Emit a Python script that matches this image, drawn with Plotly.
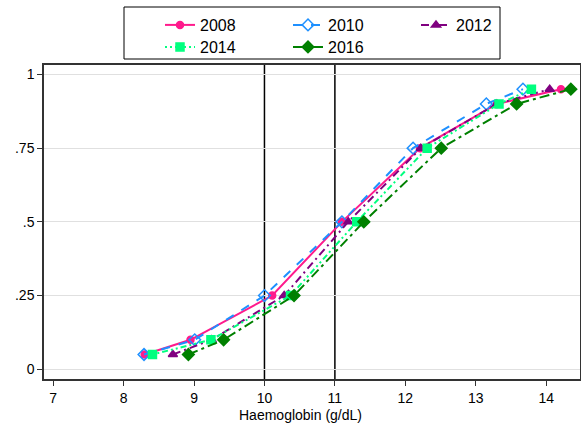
import plotly.graph_objects as go

# cumulative shares (y) and haemoglobin at those percentiles (x)
shares = [0.05, 0.1, 0.25, 0.5, 0.75, 0.9, 0.95]

hb_2008 = [8.30, 8.95, 10.11, 11.10, 12.21, 13.30, 14.21]
hb_2010 = [8.29, 9.01, 10.00, 11.10, 12.11, 13.15, 13.67]
hb_2012 = [8.70, 9.25, 10.28, 11.19, 12.22, 13.30, 14.05]
hb_2014 = [8.41, 9.24, 10.37, 11.31, 12.31, 13.33, 13.79]
hb_2016 = [8.92, 9.42, 10.42, 11.41, 12.51, 13.58, 14.35]

cutoffs = [10, 11]
x_ticks = [7, 8, 9, 10, 11, 12, 13, 14]
y_ticks = [0, 0.25, 0.5, 0.75, 1]
y_labels = ['0', '.25', '.5', '.75', '1']

W, H = 581, 426
L, R, T, B = 44, 1, 65, 47
PW, PH = W - L - R, H - T - B


def px_x(p):
    return (p - L) / PW


def px_y(p):
    return 1 + (T - p) / PH


series = [
    ('2008', hb_2008, '#ff1a8c', 'solid', 'circle', 7, 'legend'),
    ('2010', hb_2010, '#1e90ff', 'dash', 'diamond-open', 9, 'legend'),
    ('2012', hb_2012, '#800080', '8px,4px,2px,4px', 'triangle-up', 8, 'legend'),
    ('2014', hb_2014, '#00ff7f', '2px,3px,2px,3px,6px,3px', 'square', 8, 'legend2'),
    ('2016', hb_2016, '#008000', '10px,4px,3px,4px', 'diamond', 9, 'legend2'),
]

fig = go.Figure()
for name, xs, col, dash, sym, sz, lg in series:
    fig.add_trace(go.Scatter(
        x=xs,
        y=shares,
        mode='lines+markers',
        name=name,
        legend=lg,
        line=dict(color=col, width=2, dash=dash),
        marker=dict(symbol=sym, size=sz, color=col,
                    line=dict(color=col, width=1.5)),
    ))

for c in cutoffs:
    fig.add_shape(type='line', xref='x', yref='paper', x0=c, x1=c, y0=0, y1=1,
                  layer='below', line=dict(color='black', width=1.5))

# legend frame
fig.add_shape(type='rect', xref='paper', yref='paper',
              x0=px_x(124), x1=px_x(500), y0=px_y(59), y1=px_y(7),
              line=dict(color='black', width=1))

# x axis title, a bit left of the plot centre as in the original
fig.add_annotation(text='Haemoglobin (g/dL)', xref='paper', yref='paper',
                   x=px_x(300), y=px_y(405), xanchor='center', yanchor='top',
                   showarrow=False, font=dict(size=14))

leg = dict(
    orientation='h',
    xanchor='left', yanchor='top',
    entrywidth=83, entrywidthmode='pixels',
    font=dict(size=16),
    bgcolor='rgba(0,0,0,0)',
)

fig.update_layout(
    width=W,
    height=H,
    margin=dict(l=L, r=R, t=T, b=B, autoexpand=False),
    paper_bgcolor='white',
    plot_bgcolor='white',
    font=dict(family='Liberation Sans, Arial', size=14, color='black'),
    legend=dict(leg, x=px_x(160), y=px_y(8)),
    legend2=dict(leg, x=px_x(160), y=px_y(30)),
)

fig.update_xaxes(
    range=[6.87, 14.48],
    tickvals=x_ticks,
    ticks='outside', ticklen=5, tickcolor='#333',
    showgrid=False, zeroline=False,
    showline=True, linecolor='#333', linewidth=1.5, mirror=True,
)
fig.update_yaxes(
    range=[-0.033, 1.032],
    tickvals=y_ticks, ticktext=y_labels,
    ticks='outside', ticklen=5, tickcolor='#333',
    showgrid=True, gridcolor='#e0e0e0', gridwidth=1, zeroline=False,
    showline=True, linecolor='#333', linewidth=1.5, mirror=True,
)

fig.write_html('out.html', config={'displayModeBar': False},
               post_script="document.body.style.margin='0';")
